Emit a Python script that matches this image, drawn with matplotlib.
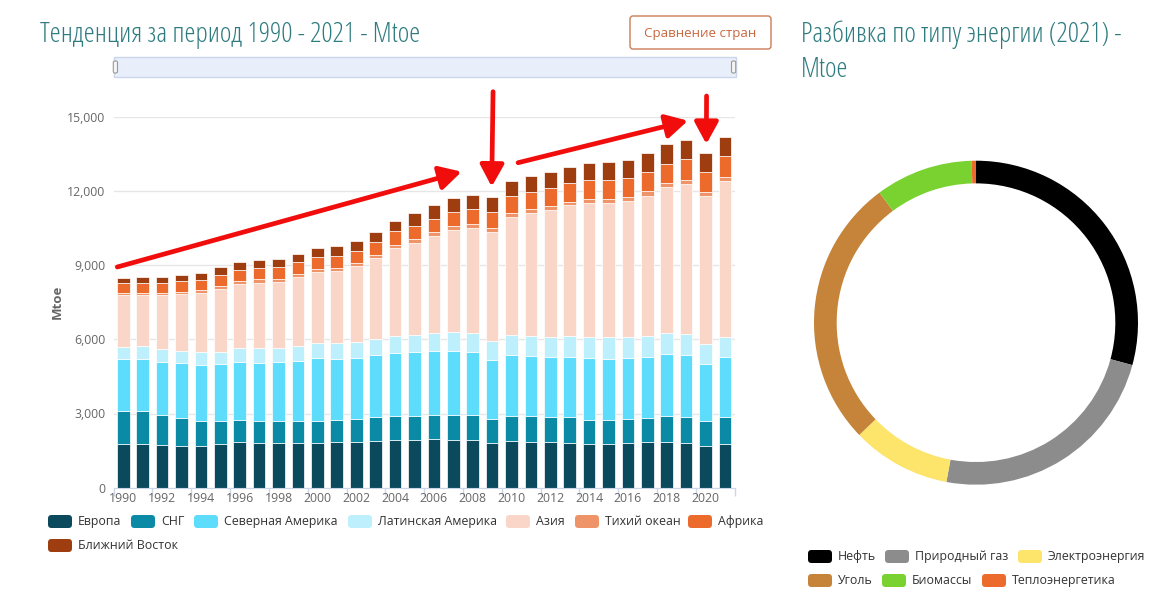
import matplotlib
matplotlib.use('Agg')
import matplotlib.pyplot as plt
from matplotlib import font_manager
from matplotlib.font_manager import FontProperties
from matplotlib.patches import FancyBboxPatch, Rectangle
import numpy as np

# ---------------- data ----------------
years = list(range(1990, 2022))
europe = [1752, 1752, 1712, 1698, 1698, 1752, 1833, 1819, 1819, 1819, 1819, 1860, 1860, 1901, 1941, 1941,
          1981, 1941, 1941, 1819, 1901, 1860, 1846, 1819, 1752, 1779, 1806, 1833, 1833, 1792, 1698, 1779]
cis = [1348, 1348, 1212, 1132, 997, 943, 903, 876, 876, 876, 890, 889, 903, 943, 943, 956,
       970, 997, 997, 944, 1010, 1037, 1025, 1025, 997, 970, 984, 997, 1064, 1065, 997, 1092]
north_america = [2116, 2116, 2157, 2210, 2265, 2305, 2345, 2345, 2372, 2426, 2534, 2467, 2493, 2506, 2574, 2588,
                 2561, 2601, 2547, 2399, 2466, 2426, 2412, 2439, 2480, 2453, 2453, 2466, 2507, 2507, 2305, 2412]
latin_america = [485, 512, 539, 499, 512, 499, 552, 593, 593, 607, 619, 620, 647, 661, 674, 687,
                 728, 741, 755, 781, 782, 809, 822, 863, 876, 876, 862, 836, 836, 849, 808, 822]
asia = [2089, 2062, 2156, 2278, 2385, 2547, 2601, 2655, 2669, 2776, 2858, 2924, 3046, 3261, 3544, 3734,
        3935, 4138, 4259, 4394, 4798, 4973, 5135, 5269, 5404, 5431, 5485, 5674, 5903, 6065, 5985, 6294]
pacific = [95, 95, 95, 94, 121, 108, 122, 135, 121, 121, 121, 121, 121, 135, 135, 134,
           148, 148, 148, 162, 148, 162, 148, 148, 175, 175, 162, 175, 162, 162, 161, 162]
africa = [391, 401, 404, 431, 418, 444, 444, 458, 472, 485, 485, 499, 499, 512, 553, 553,
          553, 593, 620, 646, 687, 701, 728, 755, 742, 742, 768, 782, 795, 848, 809, 849]
middle_east = [189, 232, 242, 270, 283, 310, 324, 324, 337, 351, 350, 391, 404, 418, 431, 499,
               539, 552, 579, 593, 607, 633, 660, 661, 714, 727, 728, 768, 781, 755, 755, 754]

regions = ['Европа', 'СНГ', 'Северная Америка', 'Латинская Америка', 'Азия', 'Тихий океан', 'Африка',
           'Ближний Восток']
region_values = [europe, cis, north_america, latin_america, asia, pacific, africa, middle_east]
region_colors = ['#0a4a5c', '#0b8aa6', '#5ddcfc', '#bdf0fc', '#f9d6c7', '#ef9468', '#eb6a2c', '#9e3d0f']

energy_types = ['Нефть', 'Природный газ', 'Электроэнергия', 'Уголь', 'Биомассы', 'Теплоэнергетика']
energy_2021 = [4140, 3360, 1400, 3830, 1380, 60]
energy_colors = ['#000000', '#8c8c8c', '#fde46a', '#c5843a', '#79d22f', '#ec6a2c']

left_title = 'Тенденция за период 1990 - 2021 - Mtoe'
right_title_1 = 'Разбивка по типу энергии (2021) -'
right_title_2 = 'Mtoe'
button_label = 'Сравнение стран'

# ---------------- fonts ----------------
ents = font_manager.fontManager.ttflist
names = {e.name for e in ents}
BODY = 'Open Sans' if 'Open Sans' in names else 'DejaVu Sans'


def pick_title_font():
    def is_cond(e):
        return ('Condensed' in e.name or 'Narrow' in e.name or 'condensed' in str(e.stretch))
    prefs = ['Open Sans', 'Roboto', 'Noto Sans', 'Liberation Sans', 'DejaVu Sans']
    for p in prefs:
        c = [e for e in ents if p in e.name and is_cond(e) and 'italic' not in str(e.style).lower()
             and 'Mono' not in e.name and 'Serif' not in e.name]
        if c:
            def wscore(e):
                try:
                    w = int(e.weight)
                except Exception:
                    w = 400
                return abs(w - 300)
            c.sort(key=wscore)
            return FontProperties(fname=c[0].fname)
    return FontProperties(family=BODY, weight='light')


TITLE_FP = pick_title_font()

W, H = 1161, 604
fig = plt.figure(figsize=(W / 100, H / 100), dpi=100)
fig.patch.set_facecolor('white')
T = fig.dpi_scale_trans


def P(x, y):
    return (x / 100.0, (H - y) / 100.0)


# ---------------- main bar chart ----------------
ax = fig.add_axes([113.6 / W, (H - 487.7) / H, (734.7 - 113.6) / W, (487.7 - 116.7) / H])
bottom = np.zeros(len(years))
for name, vals, col in zip(regions, region_values, region_colors):
    ax.bar(years, vals, bottom=bottom, width=0.65, color=col, edgecolor='white', linewidth=0.5,
           label=name, zorder=2)
    bottom += np.array(vals)

ax.set_xlim(1989.5, 2021.5)
ax.set_ylim(0, 15000)
ax.set_yticks(np.arange(0, 15001, 3000))
ax.set_yticklabels([f'{v:,}' for v in range(0, 15001, 3000)], fontfamily=BODY, fontsize=8.8, color='#666666')
ax.tick_params(axis='y', length=0, pad=6)
ax.grid(axis='y', color='#e6e6e6', linewidth=1, zorder=0)
ax.set_axisbelow(True)
ax.set_xticks(np.arange(1989.5, 2022, 2))
ax.set_xticklabels([])
ax.set_xticks(years[::2], minor=True)
ax.set_xticklabels([str(y) for y in years[::2]], minor=True, fontfamily=BODY, fontsize=8.8, color='#666666')
ax.tick_params(axis='x', which='major', length=6, color='#ccd6eb', width=1)
ax.tick_params(axis='x', which='minor', length=0, pad=3)
for s in ['top', 'right', 'left']:
    ax.spines[s].set_visible(False)
ax.spines['bottom'].set_color('#ccd6eb')
ax.set_ylabel('Mtoe', fontfamily=BODY, fontsize=9.5, fontweight='bold', color='#666666')
ax.yaxis.set_label_coords(-0.080, 0.5)

# red annotation arrows
arrows = [((1989.69, 8923), (2007.43, 12776)),
          ((2009.05, 16011), (2008.98, 12170)),
          ((2010.34, 13140), (2019.09, 14838)),
          ((2020.05, 15837), (2020.04, 13896))]
for start, end in arrows:
    ax.annotate('', xy=end, xytext=start, annotation_clip=False, zorder=10,
                arrowprops=dict(arrowstyle='-|>,head_length=0.55,head_width=0.3', color='#f20d0d',
                                lw=3.4, mutation_scale=24, shrinkA=0, shrinkB=0, capstyle='round'))

# ---------------- navigator ----------------
fig.add_artist(Rectangle(P(113.5, 77), (736 - 113.5) / 100, 20 / 100, transform=T,
                         facecolor='#e8eefa', edgecolor='#ccd6eb', linewidth=1))
for hx in (113.3, 731.5):
    fig.add_artist(FancyBboxPatch(P(hx, 73), 4.2 / 100, 12 / 100, transform=T,
                                  boxstyle='round,pad=0,rounding_size=0.015',
                                  facecolor='#f4f4f4', edgecolor='#999999', linewidth=0.8))

# ---------------- titles ----------------
t1 = fig.text(*P(40, 35), left_title, transform=T, fontproperties=TITLE_FP, fontsize=18,
              color='#2f7c80', va='center', ha='left')
fig.canvas.draw()
r = fig.canvas.get_renderer()
w = t1.get_window_extent(r).width
tsize = 18 * 380.0 / w
t1.set_fontsize(tsize)
fig.text(*P(801, 35), right_title_1, transform=T, fontproperties=TITLE_FP, fontsize=tsize,
         color='#2f7c80', va='center', ha='left')
fig.text(*P(801, 70), right_title_2, transform=T, fontproperties=TITLE_FP, fontsize=tsize,
         color='#2f7c80', va='center', ha='left')

# button
fig.add_artist(FancyBboxPatch(P(630, 49), 141 / 100, 33 / 100, transform=T,
                              boxstyle='round,pad=0,rounding_size=0.03',
                              facecolor='white', edgecolor='#cc7d58', linewidth=1))
fig.text(*P(700.5, 33), button_label, transform=T, fontfamily=BODY, fontsize=9.6,
         color='#c8683f', va='center', ha='center')

# ---------------- left legend ----------------
leg_pos = [(48, 521.5), (131, 521.5), (194, 521.5), (348, 521.5), (506, 521.5), (575, 521.5), (688, 521.5),
           (48, 545.5)]
for (lx, ly), name, col in zip(leg_pos, regions, region_colors):
    fig.add_artist(FancyBboxPatch(P(lx, ly + 6.5), 24 / 100, 13 / 100, transform=T,
                                  boxstyle='round,pad=0,rounding_size=0.035',
                                  facecolor=col, edgecolor='none'))
    fig.text(*P(lx + 30, ly), name, transform=T, fontfamily=BODY, fontsize=8.9,
             color='#333333', va='center', ha='left')

# ---------------- donut ----------------
cx, cy, rad = 976, 322.7, 162
ax2 = fig.add_axes([(cx - rad) / W, (H - cy - rad) / H, 2 * rad / W, 2 * rad / H])
ax2.pie(energy_2021, colors=energy_colors, startangle=90, counterclock=False, radius=1,
        wedgeprops=dict(width=0.14, edgecolor='none'))
ax2.set_xlim(-1, 1)
ax2.set_ylim(-1, 1)
ax2.axis('off')

leg2_pos = [(808, 556.5), (885, 556.5), (1018, 556.5), (808, 580.5), (882, 580.5), (982, 580.5)]
for (lx, ly), name, col in zip(leg2_pos, energy_types, energy_colors):
    fig.add_artist(FancyBboxPatch(P(lx, ly + 6.5), 24 / 100, 13 / 100, transform=T,
                                  boxstyle='round,pad=0,rounding_size=0.035',
                                  facecolor=col, edgecolor='none'))
    fig.text(*P(lx + 30, ly), name, transform=T, fontfamily=BODY, fontsize=8.9,
             color='#333333', va='center', ha='left')

fig.savefig('out.png', dpi=100, facecolor='white')
